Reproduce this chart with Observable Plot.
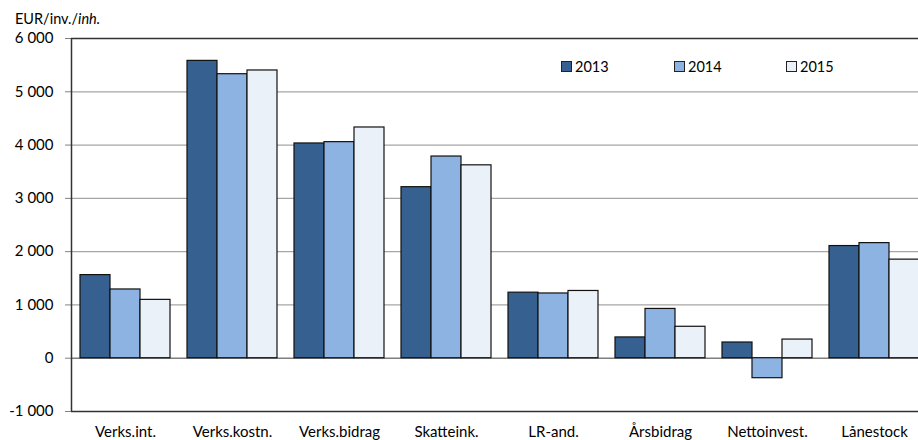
<!DOCTYPE html>
<html>
<head>
<meta charset="utf-8">
<script src="https://cdn.jsdelivr.net/npm/d3@7"></script>
<script src="https://cdn.jsdelivr.net/npm/@observablehq/plot@0.6"></script>
<style>
  html, body { margin: 0; padding: 0; background: white; overflow: hidden; }
  #wrap { position: relative; width: 918px; height: 440px; font-family: Lato, sans-serif; }
  #wrap svg { position: absolute; left: 0; top: 0; }
  #title { position: absolute; left: 15px; top: 10px; font-size: 14.5px; color: #000; z-index: 5; }
  .leg { position: absolute; top: 58px; font-size: 14.5px; display: flex; align-items: center; color: #000; z-index: 5; }
  .sw { width: 9px; height: 9px; border: 1px solid #222; margin-right: 3px; }
</style>
</head>
<body>
<div id="wrap">
  <div id="title">EUR/inv./<i>inh.</i></div>
</div>
<script>
const categories = ["Verks.int.", "Verks.kostn.", "Verks.bidrag", "Skatteink.", "LR-and.", "Årsbidrag", "Nettoinvest.", "Lånestock"];
const years = ["2013", "2014", "2015"];
const values2013 = [1560, 5580, 4030, 3210, 1230, 390, 295, 2105];
const values2014 = [1290, 5330, 4055, 3785, 1215, 925, -375, 2160];
const values2015 = [1095, 5400, 4330, 3620, 1262, 590, 350, 1850];
const yTicks = [-1000, 0, 1000, 2000, 3000, 4000, 5000, 6000];
const gridTicks = [1000, 2000, 3000, 4000, 5000];
const colors = ["#36608f", "#8db3e2", "#ebf1f9"];

const series = [values2013, values2014, values2015];
const data = [];
categories.forEach((c, i) => years.forEach((y, j) => data.push({cat: c, year: y, value: series[j][i]})));

const locale = d3.formatLocale({decimal: ",", thousands: " ", grouping: [3], currency: ["", ""], minus: "-"});
const fmt = locale.format(",");

const wrap = document.getElementById("wrap");

const common = {
  width: 918, height: 440, marginTop: 38, marginBottom: 29, marginLeft: 71,
};

const bg = Plot.plot({
  ...common,
  marginRight: 0,
  style: {fontFamily: "Lato, sans-serif", fontSize: "15px", color: "#000", background: "white"},
  x: {domain: [0, 1], axis: null},
  y: {domain: [-1000, 6000], axis: null},
  marks: [
    Plot.ruleY(gridTicks, {stroke: "#a6a6a6", strokeWidth: 1.2}),
    Plot.ruleY([0], {stroke: "#7f7f7f", strokeWidth: 1.5}),
    Plot.ruleY([6000, -1000], {stroke: "#333", strokeWidth: 1.5}),
    Plot.axisY(yTicks, {tickSize: 6, tickPadding: 12, tickFormat: fmt, stroke: "#808080", fill: "#000", label: null}),
    Plot.ruleX([0], {stroke: "#333", strokeWidth: 1.5})
  ]
});

const fg = Plot.plot({
  ...common,
  marginRight: -10,
  style: {fontFamily: "Lato, sans-serif", fontSize: "15px", color: "#000", background: "transparent"},
  fx: {domain: categories, paddingInner: 0.14, paddingOuter: 0.068, label: null, axis: "bottom", tickSize: 0, tickPadding: 15},
  x: {domain: years, padding: 0, axis: null},
  y: {domain: [-1000, 6000], axis: null},
  color: {domain: years, range: colors},
  marks: [
    Plot.barY(data, {fx: "cat", x: "year", y1: 0, y2: "value", fill: "year", stroke: "#111", strokeWidth: 1.2})
  ]
});
fg.style.background = "transparent";

wrap.appendChild(bg);
wrap.appendChild(fg);

const legX = [561, 674, 786];
years.forEach((y, i) => {
  const d = document.createElement("div");
  d.className = "leg";
  d.style.left = legX[i] + "px";
  d.innerHTML = `<span class="sw" style="background:${colors[i]}"></span><span>${y}</span>`;
  wrap.appendChild(d);
});
</script>
</body>
</html>
